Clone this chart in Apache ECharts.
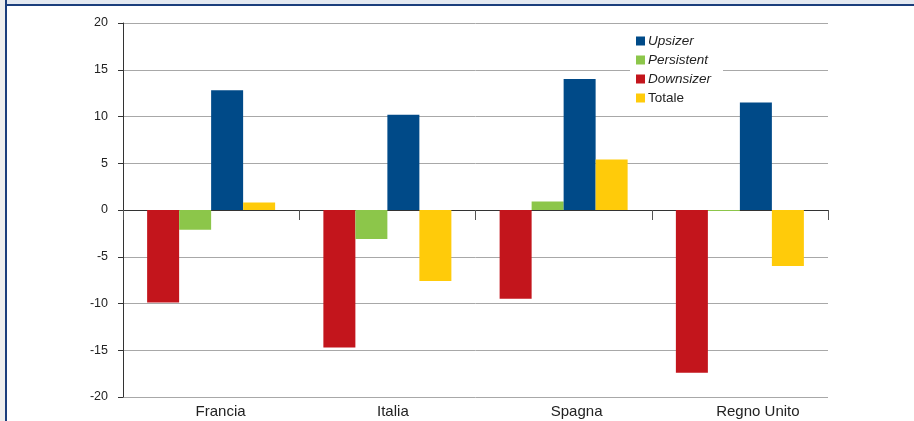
<!DOCTYPE html>
<html>
<head>
<meta charset="utf-8">
<style>
  html, body { margin: 0; padding: 0; background: #ffffff; }
  #chart { width: 914px; height: 421px; }
</style>
<script src="https://cdn.jsdelivr.net/npm/echarts@6/dist/echarts.min.js"></script>
</head>
<body>
<div id="chart"></div>
<script>
// Countries on the category axis
const countries = ['Francia', 'Italia', 'Spagna', 'Regno Unito'];

// Values per group of firms (percentage points)
const downsizer = [-9.9, -14.7, -9.5, -17.4];
const persistent = [-2.1, -3.1, 0.9, -0.1];
const upsizer = [12.8, 10.2, 14.0, 11.5];
const totale = [0.8, -7.6, 5.4, -6.0];

// Value axis range and step
const yMin = -20;
const yMax = 20;
const yStep = 5;

// Legend order differs from the drawing order of the bars
const legendOrder = ['Upsizer', 'Persistent', 'Downsizer', 'Totale'];

const colors = {
  Downsizer: '#c3151c',
  Persistent: '#8cc64a',
  Upsizer: '#004a88',
  Totale: '#ffcb0a'
};

// horizontal nudge (px, left padding) for each country name under its group
const labelNudge = [19, 11, 26, 36];

const FONT = '"Liberation Sans", Arial, Helvetica, sans-serif';

const chart = echarts.init(document.getElementById('chart'), null, { renderer: 'canvas' });

function barSeries(name, values) {
  return {
    name: name,
    type: 'bar',
    xAxisIndex: 0,
    yAxisIndex: 0,
    data: values,
    barWidth: 32,
    barGap: '0%',
    itemStyle: { color: colors[name] },
    emphasis: { disabled: true }
  };
}

const labelRich = {};
labelNudge.forEach(function (p, i) {
  labelRich['c' + i] = { padding: [0, 0, 0, p], fontSize: 15, color: '#222222', fontFamily: FONT };
});

chart.setOption({
  animation: false,
  backgroundColor: '#ffffff',
  textStyle: { fontFamily: FONT },
  graphic: [
    // page frame: light band along the top and left, dark blue rule
    { type: 'rect', shape: { x: 0, y: 0, width: 914, height: 4 }, style: { fill: '#e4e9f1' }, silent: true },
    { type: 'rect', shape: { x: 0, y: 0, width: 5, height: 421 }, style: { fill: '#eeeeee' }, silent: true },
    { type: 'rect', shape: { x: 5, y: 4, width: 909, height: 2 }, style: { fill: '#1b3e7c' }, silent: true },
    { type: 'rect', shape: { x: 5, y: 0, width: 2, height: 421 }, style: { fill: '#1b3e7c' }, silent: true }
  ],
  grid: { left: 123, right: 86, top: 23, bottom: 24, containLabel: false },
  legend: {
    orient: 'vertical',
    left: 630,
    top: 31,
    data: legendOrder,
    itemWidth: 9,
    itemHeight: 9,
    itemGap: 5,
    padding: [3, 12, 3, 6],
    backgroundColor: '#ffffff',
    icon: 'rect',
    selectedMode: false,
    formatter: function (name) {
      return name === 'Totale' ? name : '{i|' + name + '}';
    },
    textStyle: {
      fontFamily: FONT,
      fontSize: 13.5,
      color: '#222222',
      padding: [0, 0, 0, -2],
      rich: {
        i: { fontStyle: 'italic', fontFamily: FONT, fontSize: 13.5, color: '#222222' }
      }
    }
  },
  xAxis: [
    {
      // axis drawn through zero with separating ticks
      type: 'category',
      data: countries,
      position: 'bottom',
      axisLine: { onZero: true, lineStyle: { color: '#333333', width: 1 } },
      axisTick: { show: true, length: 10, lineStyle: { color: '#555555', width: 1 } },
      axisLabel: { show: false },
      splitLine: { show: false }
    },
    {
      // category names along the bottom edge
      type: 'category',
      data: countries,
      position: 'bottom',
      axisLine: { show: false, onZero: false },
      axisTick: { show: false },
      axisLabel: {
        show: true,
        margin: 7,
        fontSize: 15,
        color: '#222222',
        fontFamily: FONT,
        formatter: function (value, index) {
          return '{c' + index + '|' + value + '}';
        },
        rich: labelRich
      },
      splitLine: { show: false }
    }
  ],
  yAxis: {
    type: 'value',
    min: yMin,
    max: yMax,
    interval: yStep,
    axisLine: { show: true, lineStyle: { color: '#333333', width: 1 } },
    axisTick: { show: true, length: 5, lineStyle: { color: '#333333' } },
    axisLabel: { margin: 15, fontSize: 12.5, color: '#222222', fontFamily: FONT },
    splitLine: { show: true, lineStyle: { color: '#a8a8a8', width: 1 } }
  },
  series: [
    barSeries('Downsizer', downsizer),
    barSeries('Persistent', persistent),
    barSeries('Upsizer', upsizer),
    barSeries('Totale', totale)
  ]
});
</script>
</body>
</html>
